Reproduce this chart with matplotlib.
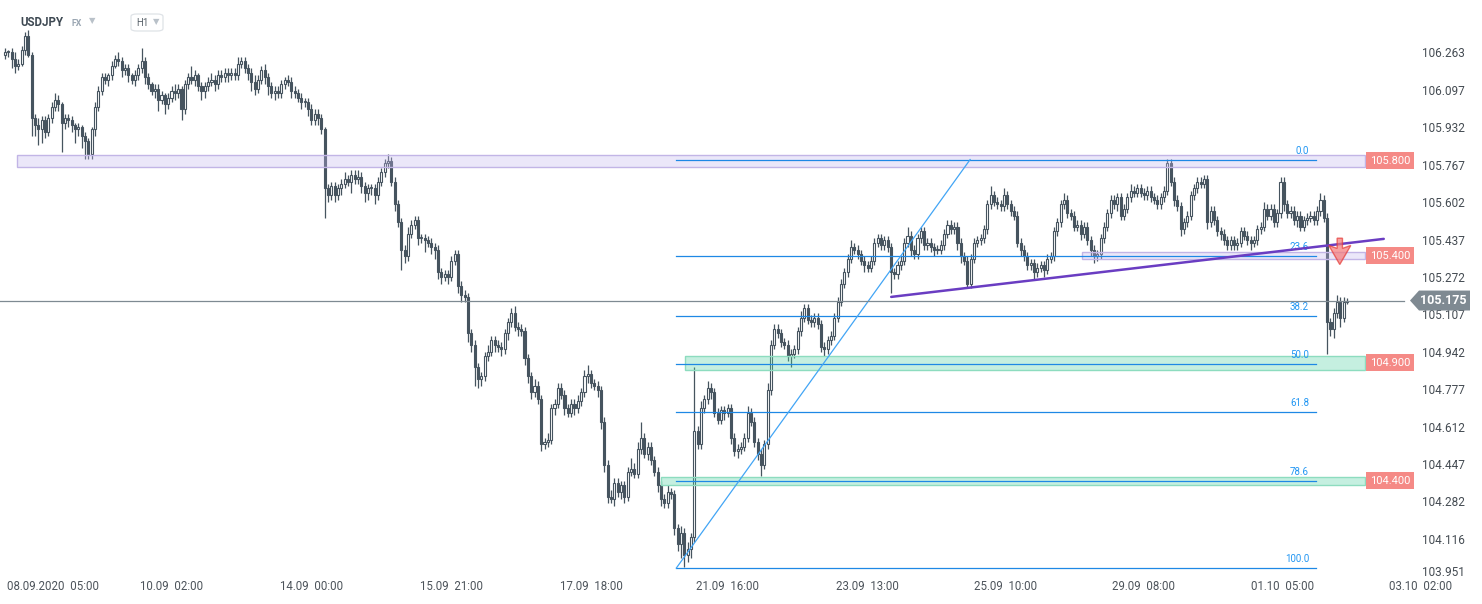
import matplotlib
matplotlib.use("Agg")
import matplotlib.pyplot as plt
import matplotlib.transforms as mtransforms
from matplotlib.patches import Rectangle, Polygon, FancyBboxPatch
import numpy as np

plt.rcParams['font.family'] = ['Roboto', 'DejaVu Sans']

# hourly closes, USDJPY
closes = [
    106.27, 106.27, 106.24, 106.21, 106.22, 106.28, 106.34, 106.26, 105.98, 105.95,
    105.93, 105.97, 105.92, 105.98, 106.03, 106.06, 106.04, 105.96, 105.98, 105.97,
    105.95, 105.93, 105.94, 105.90, 105.88, 105.82, 105.93, 106.03, 106.10, 106.16,
    106.15, 106.17, 106.21, 106.24, 106.23, 106.19, 106.20, 106.17, 106.15, 106.17,
    106.20, 106.23, 106.16, 106.13, 106.10, 106.11, 106.06, 106.08, 106.04, 106.07,
    106.10, 106.09, 106.11, 106.02, 106.13, 106.16, 106.15, 106.17, 106.12, 106.10,
    106.12, 106.14, 106.15, 106.13, 106.17, 106.16, 106.18, 106.17, 106.18, 106.17,
    106.22, 106.23, 106.20, 106.18, 106.14, 106.11, 106.15, 106.19, 106.16, 106.12,
    106.09, 106.10, 106.09, 106.13, 106.15, 106.14, 106.10, 106.09, 106.07, 106.05,
    106.05, 106.02, 105.97, 106.00, 105.98, 105.93, 105.67, 105.64, 105.68, 105.64,
    105.67, 105.69, 105.71, 105.70, 105.73, 105.71, 105.72, 105.68, 105.65, 105.67,
    105.67, 105.64, 105.70, 105.74, 105.78, 105.79, 105.70, 105.60, 105.52, 105.40,
    105.37, 105.47, 105.51, 105.53, 105.45, 105.45, 105.44, 105.43, 105.41, 105.40,
    105.30, 105.28, 105.29, 105.28, 105.35, 105.38, 105.24, 105.20, 105.19, 105.03,
    104.98, 104.88, 104.83, 104.84, 104.93, 104.95, 105.00, 104.98, 104.97, 104.96,
    105.03, 105.08, 105.12, 105.06, 105.05, 105.04, 104.92, 104.84, 104.77, 104.80,
    104.74, 104.54, 104.55, 104.56, 104.70, 104.72, 104.79, 104.76, 104.70, 104.68,
    104.72, 104.70, 104.73, 104.77, 104.84, 104.85, 104.81, 104.80, 104.78, 104.64,
    104.45, 104.31, 104.30, 104.37, 104.33, 104.36, 104.31, 104.42, 104.43, 104.41,
    104.52, 104.57, 104.50, 104.53, 104.47, 104.42, 104.36, 104.30, 104.28, 104.33,
    104.32, 104.17, 104.10, 104.15, 104.05, 104.08, 104.13, 104.60, 104.54, 104.70,
    104.74, 104.79, 104.77, 104.68, 104.65, 104.69, 104.68, 104.70, 104.57, 104.51,
    104.52, 104.53, 104.57, 104.68, 104.64, 104.55, 104.50, 104.45, 104.54, 104.78,
    104.98, 105.05, 105.03, 104.99, 104.98, 104.93, 104.94, 104.96, 105.04, 105.10,
    105.14, 105.09, 105.08, 105.10, 105.07, 104.97, 104.96, 105.00, 105.02, 105.10,
    105.17, 105.25, 105.30, 105.36, 105.41, 105.40, 105.38, 105.35, 105.33, 105.32,
    105.35, 105.43, 105.45, 105.42, 105.44, 105.41, 105.30, 105.29, 105.33, 105.35,
    105.43, 105.46, 105.40, 105.38, 105.45, 105.48, 105.42, 105.43, 105.41, 105.40,
    105.40, 105.42, 105.47, 105.51, 105.49, 105.50, 105.43, 105.37, 105.35, 105.25,
    105.36, 105.43, 105.44, 105.45, 105.49, 105.60, 105.64, 105.61, 105.60, 105.59,
    105.64, 105.60, 105.57, 105.55, 105.43, 105.40, 105.37, 105.33, 105.34, 105.30,
    105.32, 105.33, 105.31, 105.36, 105.37, 105.48, 105.52, 105.60, 105.62, 105.56,
    105.55, 105.50, 105.51, 105.47, 105.50, 105.44, 105.40, 105.37, 105.38, 105.45,
    105.50, 105.56, 105.62, 105.60, 105.63, 105.55, 105.58, 105.63, 105.66, 105.65,
    105.67, 105.65, 105.64, 105.66, 105.63, 105.62, 105.60, 105.63, 105.66, 105.78,
    105.70, 105.62, 105.59, 105.49, 105.52, 105.55, 105.64, 105.67, 105.70, 105.69,
    105.71, 105.52, 105.57, 105.53, 105.48, 105.47, 105.44, 105.42, 105.44, 105.42,
    105.43, 105.48, 105.46, 105.44, 105.43, 105.44, 105.49, 105.50, 105.58, 105.55,
    105.58, 105.52, 105.56, 105.70, 105.60, 105.56, 105.57, 105.53, 105.55, 105.50,
    105.53, 105.54, 105.55, 105.53, 105.57, 105.62, 105.54, 105.08, 105.05, 105.12,
    105.17, 105.10, 105.17, 105.175,
]
first_open = 106.26

# wick lengths above / below the body, in pips (0.01)
upper_wick = [
    2, 1, 2, 3, 2, 2, 2, 3, 1, 2,   3, 2, 2, 2, 2, 3, 2, 1, 2, 2,
    2, 1, 2, 1, 2, 1, 1, 2, 2, 2,   2, 1, 2, 2, 3, 2, 2, 2, 1, 2,
    2, 6, 2, 2, 1, 2, 2, 2, 1, 2,   2, 3, 2, 1, 2, 2, 5, 2, 1, 2,
    2, 2, 3, 2, 2, 2, 2, 2, 2, 2,   3, 2, 2, 2, 2, 3, 2, 2, 3, 2,
    2, 2, 2, 2, 1, 2, 2, 2, 2, 2,   2, 2, 2, 2, 2, 2, 1, 2, 2, 2,
    2, 2, 3, 2, 2, 2, 3, 2, 2, 2,   2, 2, 2, 2, 2, 3, 2, 2, 2, 2,
    2, 3, 2, 2, 2, 2, 2, 2, 2, 2,   2, 2, 2, 2, 2, 2, 2, 2, 2, 2,
    2, 2, 2, 2, 2, 3, 2, 2, 2, 2,   2, 2, 2, 3, 2, 2, 2, 2, 2, 3,
    2, 2, 2, 3, 2, 2, 2, 2, 2, 2,   2, 2, 3, 2, 3, 4, 2, 2, 2, 2,
    2, 2, 3, 2, 2, 2, 2, 2, 5, 3,   3, 7, 2, 2, 2, 2, 2, 2, 2, 3,
    2, 2, 2, 3, 2, 3, 2, 28, 2, 3,  2, 3, 2, 2, 2, 2, 2, 2, 2, 2,
    2, 2, 2, 3, 2, 2, 2, 2, 2, 3,   2, 2, 2, 2, 2, 2, 2, 2, 2, 3,
    2, 2, 2, 2, 2, 2, 2, 2, 2, 2,   2, 2, 2, 2, 3, 2, 2, 2, 2, 2,
    2, 2, 2, 2, 2, 2, 2, 2, 2, 2,   2, 4, 2, 2, 2, 2, 2, 2, 2, 2,
    2, 2, 2, 2, 2, 2, 2, 2, 2, 2,   2, 2, 2, 2, 2, 2, 4, 2, 2, 2,
    3, 2, 2, 2, 2, 2, 2, 2, 2, 2,   2, 2, 2, 2, 2, 2, 2, 2, 3, 2,
    2, 2, 2, 2, 2, 2, 2, 2, 2, 2,   2, 2, 2, 2, 2, 2, 2, 2, 3, 2,
    2, 2, 2, 2, 2, 2, 2, 2, 2, 2,   2, 2, 2, 2, 2, 2, 2, 2, 2, 2,
    2, 2, 2, 2, 2, 2, 2, 2, 2, 2,   2, 2, 2, 2, 2, 2, 2, 2, 3, 2,
    2, 2, 2, 2, 2, 2, 2, 2, 2, 2,   2, 2, 2, 2, 2, 3, 2, 2, 2, 2,
    3, 2, 2, 1,
]
lower_wick = [
    2, 2, 4, 3, 2, 1, 2, 1, 8, 5,   7, 6, 3, 2, 2, 2, 3, 13, 3, 3,
    3, 6, 3, 5, 8, 2, 2, 3, 2, 2,   2, 3, 2, 1, 2, 3, 2, 3, 2, 3,
    2, 2, 3, 2, 2, 3, 5, 2, 4, 2,   2, 3, 2, 5, 2, 2, 2, 3, 2, 4,
    3, 2, 2, 3, 2, 2, 2, 3, 2, 2,   2, 2, 2, 3, 4, 3, 2, 2, 3, 4,
    2, 3, 2, 2, 2, 2, 3, 2, 2, 3,   2, 3, 2, 2, 3, 2, 13, 3, 2, 3,
    2, 3, 2, 2, 5, 2, 2, 3, 4, 3,   3, 4, 2, 2, 2, 2, 2, 3, 2, 9,
    3, 2, 2, 2, 3, 2, 5, 2, 3, 4,   3, 3, 2, 3, 2, 2, 3, 3, 2, 4,
    3, 8, 4, 3, 2, 2, 2, 3, 2, 3,   2, 3, 2, 2, 3, 2, 3, 3, 3, 2,
    2, 3, 2, 2, 2, 3, 2, 2, 3, 2,   2, 3, 2, 2, 2, 3, 2, 2, 3, 3,
    3, 3, 2, 3, 2, 3, 3, 2, 2, 2,   2, 2, 2, 3, 2, 2, 3, 3, 2, 2,
    2, 3, 3, 6, 5, 3, 4, 2, 2, 2,   2, 2, 3, 2, 2, 2, 3, 2, 3, 2,
    3, 2, 2, 2, 2, 2, 3, 5, 2, 2,   2, 2, 2, 2, 2, 2, 5, 2, 2, 2,
    2, 2, 2, 2, 2, 2, 3, 2, 2, 2,   2, 2, 2, 2, 2, 2, 2, 2, 3, 2,
    2, 2, 2, 2, 2, 2, 9, 2, 2, 2,   2, 2, 3, 2, 2, 2, 2, 2, 2, 3,
    2, 2, 2, 2, 2, 2, 3, 3, 2, 2,   2, 2, 2, 2, 2, 2, 2, 2, 2, 2,
    2, 2, 2, 2, 2, 3, 2, 2, 2, 3,   2, 2, 3, 2, 2, 2, 2, 2, 2, 2,
    2, 2, 2, 3, 2, 2, 3, 3, 2, 2,   2, 2, 2, 2, 3, 2, 2, 2, 2, 2,
    2, 2, 2, 2, 2, 2, 2, 2, 2, 2,   2, 3, 2, 3, 2, 2, 2, 2, 2, 2,
    2, 3, 2, 2, 2, 3, 2, 2, 2, 2,   2, 2, 2, 2, 3, 2, 2, 2, 2, 2,
    2, 2, 2, 2, 3, 2, 2, 2, 3, 2,   2, 2, 2, 2, 2, 2, 2, 14, 3, 4,
    2, 4, 2, 1,
]

price_ticks = [106.263, 106.097, 105.932, 105.767, 105.602, 105.437, 105.272,
               105.107, 104.942, 104.777, 104.612, 104.447, 104.282, 104.116, 103.951]
date_labels = ["08.09.2020  05:00", "10.09  02:00", "14.09  00:00", "15.09  21:00",
               "17.09  18:00", "21.09  16:00", "23.09  13:00", "25.09  10:00",
               "29.09  08:00", "01.10  05:00", "03.10  02:00"]
date_pos = [14.5, 50, 92, 134, 176, 217, 259, 300.5, 342, 383.5, 425]

last_price = 105.175

# drawn levels / zones (price ranges)
zones = [  # (x_start, x_end, low, high, kind, label)
    (3.6, 408.4, 105.766, 105.817, "purple", "105.800"),
    (323.4, 408.4, 105.357, 105.390, "purple", "105.400"),
    (204.3, 408.4, 104.869, 104.931, "green", "104.900"),
    (197.1, 408.4, 104.362, 104.397, "green", "104.400"),
]
fib_high, fib_low = 105.797, 103.995
fib_x0, fib_x1 = 201.6, 393.6
fib_anchor_x = (201.6, 289.8)
fib_levels = [0.0, 23.6, 38.2, 50.0, 61.8, 78.6, 100.0]
trend_x = (266.1, 414.0)
trend_y = (105.191, 105.447)

# ---- candles
closes = np.array(closes)
opens = np.concatenate([[first_open], closes[:-1]])
highs = np.maximum(opens, closes) + np.array(upper_wick) * 0.01
lows = np.minimum(opens, closes) - np.array(lower_wick) * 0.01
idx = np.arange(len(closes))

dark = "#46545f"
fig = plt.figure(figsize=(14.82, 6.04), dpi=100)
ax = fig.add_axes([0, 0, 1, 1])
ax.set_xlim(-1.5, 443.5)
ax.set_ylim(103.836, 106.501)
ax.axis("off")

ax.vlines(idx, lows, highs, color=dark, lw=0.9, zorder=2)
up = closes >= opens
body_h = np.maximum(np.abs(closes - opens), 0.004)
body_b = np.minimum(opens, closes)
ax.bar(idx[up], body_h[up], bottom=body_b[up], width=0.62, facecolor="white",
       edgecolor=dark, linewidth=0.8, zorder=3)
ax.bar(idx[~up], body_h[~up], bottom=body_b[~up], width=0.62, facecolor=dark,
       edgecolor=dark, linewidth=0.8, zorder=3)

# ---- zones
blend = mtransforms.blended_transform_factory(ax.transAxes, ax.transData)
for x0, x1, lo, hi, kind, lab in zones:
    if kind == "purple":
        fc, ec = "#c5b8ee", "#c2b5e6"
    else:
        fc, ec = "#4fd1a1", "#8ddcbf"
    ax.add_patch(Rectangle((x0, lo), x1 - x0, hi - lo, facecolor=fc, alpha=0.33,
                           edgecolor="none", zorder=4))
    ax.add_patch(Rectangle((x0, lo), x1 - x0, hi - lo, facecolor="none",
                           edgecolor=ec, lw=1, zorder=4))
    ax.text(1390 / 1482, (lo + hi) / 2, lab, transform=blend, ha="center", va="center",
            fontsize=8, color="white", zorder=8,
            bbox=dict(boxstyle="square,pad=0.32", fc="#f58a86", ec="none"))

# ---- fibonacci
fib_blue = "#1e88e5"
for lv in fib_levels:
    p = fib_high - lv / 100 * (fib_high - fib_low)
    ax.plot([fib_x0, fib_x1], [p, p], color=fib_blue, lw=0.9, zorder=5)
    ax.text(fib_x1 - 2, p + 0.017, f"{lv:.1f}", ha="right", va="bottom",
            fontsize=7, color="#2196f3", zorder=5)
ax.plot(fib_anchor_x, [fib_low, fib_high], color="#42a5f5", lw=0.9, zorder=5)

# ---- trend line
ax.plot(trend_x, trend_y, color="#6a3dc2", lw=1.8, zorder=6, solid_capstyle="round")

# ---- current price
ax.plot([-1.5, 420], [last_price, last_price], color="#7e8a92", lw=0.9, zorder=6)
tag_x0 = 1410 / 1482
tag = Polygon([(tag_x0, last_price), (tag_x0 + 9 / 1482, last_price + 0.044),
               (1470 / 1482, last_price + 0.044), (1470 / 1482, last_price - 0.044),
               (tag_x0 + 9 / 1482, last_price - 0.044)], closed=True,
              transform=blend, facecolor="#7f8a92", edgecolor="none", zorder=9)
ax.add_patch(tag)
ax.text(1443 / 1482, last_price, f"{last_price:.3f}", transform=blend, ha="center",
        va="center", fontsize=9, color="white", fontweight="bold", zorder=10)

# ---- sell arrow
ax_x = 400.8
arrow = Polygon([(ax_x - 0.8, 105.450), (ax_x + 0.8, 105.450), (ax_x + 0.8, 105.405),
                 (ax_x + 3.3, 105.418), (ax_x, 105.334), (ax_x - 3.3, 105.418),
                 (ax_x - 0.8, 105.405)], closed=True, facecolor="#f47878",
                alpha=0.7, edgecolor="#e53935", lw=1, zorder=9)
ax.add_patch(arrow)

# ---- axis labels
for t in price_ticks:
    ax.text(1443 / 1482, max(t, 103.973), f"{t:.3f}", transform=blend, ha="center",
            va="center", fontsize=8.5, color="#444b52", zorder=7)
for lab, xp in zip(date_labels, date_pos):
    ax.text(xp, 0.029, lab, transform=mtransforms.blended_transform_factory(
        ax.transData, ax.transAxes), ha="center", va="center", fontsize=8.3,
        color="#4d545b")

# ---- header
ax.text(20 / 1482, 1 - 22 / 604, "USDJPY", transform=ax.transAxes, fontsize=8.3,
        fontweight="bold", color="#3d4852", va="center")
ax.text(72 / 1482, 1 - 23 / 604, "FX", transform=ax.transAxes, fontsize=6.3,
        fontweight="bold", color="#9aa6b2", va="center")
ax.text(92 / 1482, 1 - 21 / 604, "▼", transform=ax.transAxes, fontsize=6,
        color="#b9c1c9", va="center", ha="center")
ax.add_patch(FancyBboxPatch(
    (131 / 1482, 1 - 31 / 604), 32 / 1482, 17 / 604, boxstyle="round,pad=0,rounding_size=0.004",
    transform=ax.transAxes, facecolor="white", edgecolor="#dfe3e7", lw=0.9))
ax.text(136 / 1482, 1 - 22.5 / 604, "H1", transform=ax.transAxes, fontsize=7,
        color="#5a636b", va="center")
ax.text(156 / 1482, 1 - 22 / 604, "▼", transform=ax.transAxes, fontsize=6,
        color="#b9c1c9", va="center", ha="center")

fig.savefig("out.png", dpi=100)
